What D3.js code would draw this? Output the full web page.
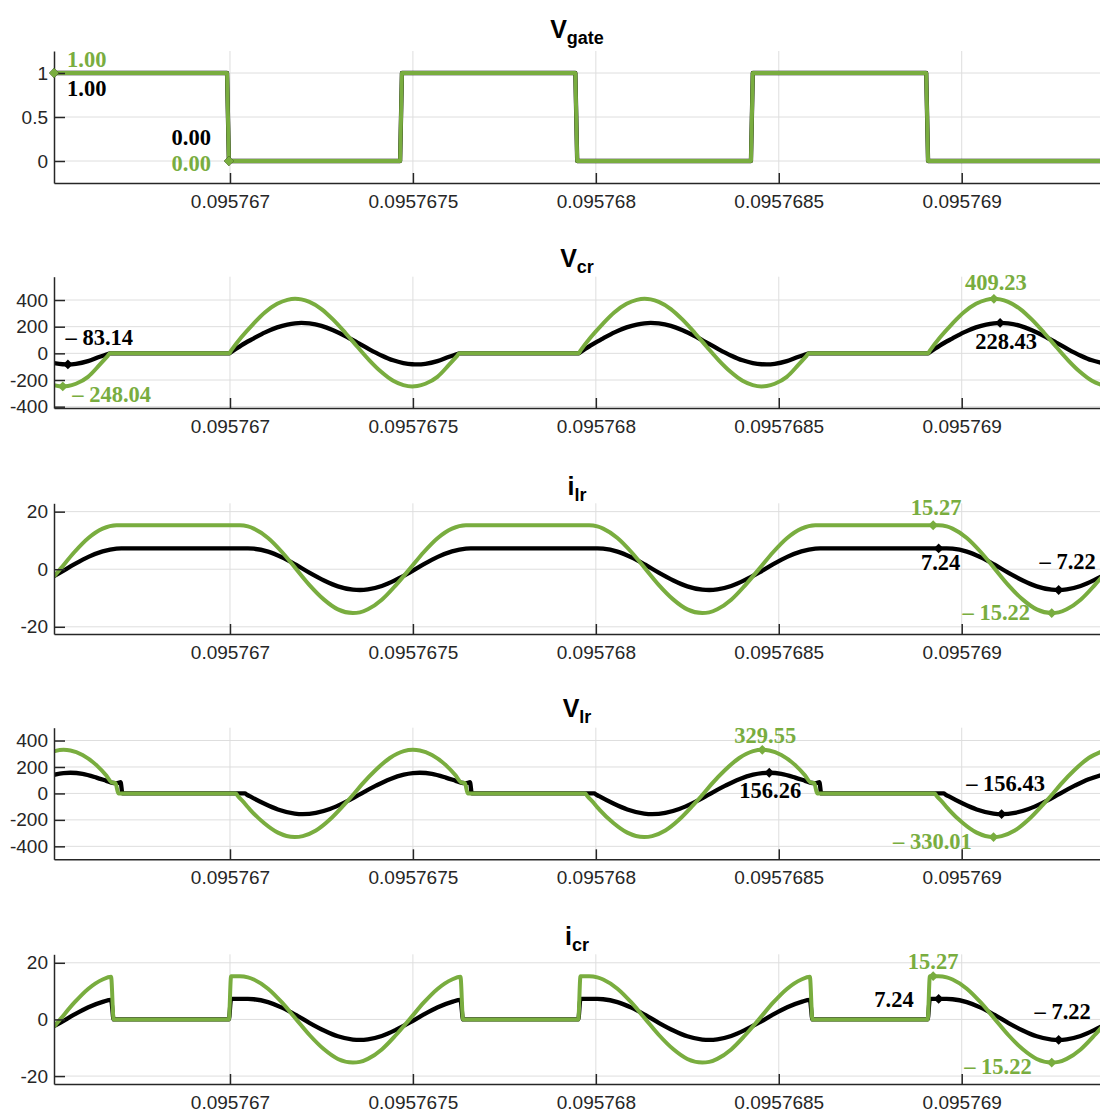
<!DOCTYPE html>
<html><head><meta charset="utf-8">
<script src="https://cdn.jsdelivr.net/npm/d3@7"></script>
<style>html,body{margin:0;padding:0;background:#fff}svg{display:block}</style>
</head><body>
<svg id="chart" width="1100" height="1115"></svg>
<script>
// ---------- time axis ----------
const T0 = 0.095767;                      // s ; data times below are ns offsets from T0
const xDomainNs = [-481, 2378];
const xTicks = [0.095767, 0.0957675, 0.095768, 0.0957685, 0.095769];
const xTickLabels = ["0.095767", "0.0957675", "0.095768", "0.0957685", "0.095769"];

// ---------- V_gate ----------
const gateT = [-481, -8, -3, 465, 470, 944, 949, 1424, 1429, 1903, 1908, 2378];
const gateGreen = [1, 1, 0, 0, 1, 1, 0, 0, 1, 1, 0, 0];
const gateBlack = [1, 1, 0, 0, 1, 1, 0, 0, 1, 1, 0, 0];
const gateYDomain = [-0.25, 1.25];
const gateYTicks = [0, 0.5, 1];
const gateYTickLabels = ["0", "0.5", "1"];
const gateTipT = [-481, -481, -3, -3];
const gateTipV = [1, 1, 0, 0];
const gateTipS = ["green", "black", "black", "green"];

// ---------- V_cr ----------
const vcrT = [-481, -457, -443, -421, -388, -356, -336, -328,
  -2, 3, 31, 64, 96, 129, 157, 178, 195, 217, 250, 282, 315, 348, 381, 414, 446, 474, 498, 512, 534, 567, 599, 619, 627,
  953, 958, 986, 1019, 1051, 1084, 1112, 1133, 1150, 1172, 1205, 1237, 1270, 1303, 1336, 1369, 1401, 1429, 1453, 1467, 1489, 1522, 1554, 1574, 1582,
  1908, 1913, 1941, 1974, 2006, 2039, 2067, 2088, 2105, 2127, 2160, 2192, 2225, 2258, 2291, 2324, 2356, 2384];
const vcrGreen = [-238.4, -248.04, -245.2, -228.2, -176.2, -85, -25, 0,
  0, 20, 120.1, 221.5, 308.0, 371.4, 401.4, 409.23, 404.8, 386.1, 332.2, 252.5, 154.8, 49.7, -52.3, -140.5, -206.3, -238.4, -248.04, -245.2, -228.2, -176.2, -85, -25, 0,
  0, 20, 120.1, 221.5, 308.0, 371.4, 401.4, 409.23, 404.8, 386.1, 332.2, 252.5, 154.8, 49.7, -52.3, -140.5, -206.3, -238.4, -248.04, -245.2, -228.2, -176.2, -85, -25, 0,
  0, 20, 120.1, 221.5, 308.0, 371.4, 401.4, 409.23, 404.8, 386.1, 332.2, 252.5, 154.8, 49.7, -52.3, -140.5, -206.3, -238.4];
const vcrBlack = [-72.7, -81.8, -83.14, -78.7, -58.6, -24.9, -7.5, 0,
  0, 8.5, 60.2, 110.8, 157.2, 194.7, 216.1, 225.6, 228.43, 224.7, 206.3, 173.6, 130.2, 80.6, 30.1, -15.7, -52.4, -72.7, -81.8, -83.14, -78.7, -58.6, -24.9, -7.5, 0,
  0, 8.5, 60.2, 110.8, 157.2, 194.7, 216.1, 225.6, 228.43, 224.7, 206.3, 173.6, 130.2, 80.6, 30.1, -15.7, -52.4, -72.7, -81.8, -83.14, -78.7, -58.6, -24.9, -7.5, 0,
  0, 8.5, 60.2, 110.8, 157.2, 194.7, 216.1, 225.6, 228.43, 224.7, 206.3, 173.6, 130.2, 80.6, 30.1, -15.7, -52.4, -72.7];
const vcrYDomain = [-410, 575];
const vcrYTicks = [-400, -200, 0, 200, 400];
const vcrYTickLabels = ["-400", "-200", "0", "200", "400"];
const vcrTipT = [-457, -443, 2088, 2105];
const vcrTipV = [-248.04, -83.14, 409.23, 228.43];
const vcrTipS = ["green", "black", "green", "black"];

// ---------- i_lr ----------
const ilrT = [-481, -463, -425, -387, -348, -310, -297,
  27, 49, 65, 104, 142, 180, 218, 257, 295, 336, 355, 377, 415, 453, 492, 530, 568, 607, 645, 658,
  982, 1004, 1020, 1059, 1097, 1135, 1173, 1212, 1250, 1291, 1310, 1332, 1370, 1408, 1447, 1485, 1523, 1562, 1600, 1613,
  1937, 1959, 1975, 2014, 2052, 2090, 2128, 2167, 2205, 2246, 2265, 2287, 2325, 2363, 2402];
const ilrGreen = [-2.55, 0.21, 5.99, 10.86, 14.11, 15.27, 15.27,
  15.27, 14.87, 14.11, 10.86, 5.99, 0.21, -5.59, -10.56, -13.95, -15.22, -14.99, -13.92, -10.59, -5.59, 0.21, 5.99, 10.86, 14.11, 15.27, 15.27,
  15.27, 14.87, 14.11, 10.86, 5.99, 0.21, -5.59, -10.56, -13.95, -15.22, -14.99, -13.92, -10.59, -5.59, 0.21, 5.99, 10.86, 14.11, 15.27, 15.27,
  15.27, 14.87, 14.11, 10.86, 5.99, 0.21, -5.59, -10.56, -13.95, -15.22, -14.99, -13.92, -10.59, -5.59, 0.21];
const ilrBlack = [-2.36, -1.08, 1.76, 4.29, 6.20, 7.17, 7.24,
  7.24, 7.24, 7.13, 6.11, 4.16, 1.57, -1.27, -3.90, -5.95, -7.11, -7.22, -7.02, -5.84, -3.72, -1.08, 1.76, 4.29, 6.20, 7.17, 7.24,
  7.24, 7.24, 7.13, 6.11, 4.16, 1.57, -1.27, -3.90, -5.95, -7.11, -7.22, -7.02, -5.84, -3.72, -1.08, 1.76, 4.29, 6.20, 7.17, 7.24,
  7.24, 7.24, 7.13, 6.11, 4.16, 1.57, -1.27, -3.90, -5.95, -7.11, -7.22, -7.02, -5.84, -3.72, -1.08];
const ilrYDomain = [-22.5, 22.9];
const ilrYTicks = [-20, 0, 20];
const ilrYTickLabels = ["-20", "0", "20"];
const ilrTipT = [1922, 1937, 2265, 2246];
const ilrTipV = [15.27, 7.24, -7.22, -15.22];
const ilrTipS = ["green", "black", "black", "green"];

// ---------- V_lr ----------
const vlrT = [-481, -455, -436, -403, -365, -338, -324, -313, -305, -299, -294,
  16, 21, 41, 46, 54, 93, 131, 177, 199, 235, 273, 311, 339, 360, 399, 437, 475, 500, 519, 552, 590, 617, 631, 642, 650, 656, 661,
  971, 976, 996, 1001, 1009, 1048, 1086, 1132, 1154, 1190, 1228, 1266, 1294, 1315, 1354, 1392, 1430, 1455, 1474, 1507, 1545, 1572, 1586, 1597, 1605, 1611, 1616,
  1926, 1931, 1951, 1956, 1964, 2003, 2041, 2087, 2109, 2145, 2183, 2221, 2249, 2270, 2309, 2347, 2385];
const vlrGreen = [318, 329.55, 324.9, 291.2, 214.1, 135, 85, 78, 0, 0, 0,
  0, -17.5, -78.1, -95.0, -119.9, -223.4, -296.5, -330.01, -322.8, -280.8, -197.8, -89.0, -2.6, 67.1, 179.5, 267.9, 319.7, 329.55, 324.9, 291.2, 214.1, 135, 85, 78, 0, 0, 0,
  0, -17.5, -78.1, -95.0, -119.9, -223.4, -296.5, -330.01, -322.8, -280.8, -197.8, -89.0, -2.6, 67.1, 179.5, 267.9, 319.7, 329.55, 324.9, 291.2, 214.1, 135, 85, 78, 0, 0, 0,
  0, -17.5, -78.1, -95.0, -119.9, -223.4, -296.5, -330.01, -322.8, -280.8, -197.8, -89.0, -2.6, 67.1, 179.5, 267.9, 319.7];
const vlrBlack = [141, 153.4, 156.26, 148.4, 119.9, 95, 82, 78, 80, 85, 0,
  0, 0, 0, -8.4, -21.0, -76.5, -121.3, -152.4, -156.43, -147.3, -117.8, -71.8, -32.1, 1.25, 58.8, 107.7, 141.9, 153.4, 156.26, 148.4, 119.9, 95, 82, 78, 80, 85, 0,
  0, 0, 0, -8.4, -21.0, -76.5, -121.3, -152.4, -156.43, -147.3, -117.8, -71.8, -32.1, 1.25, 58.8, 107.7, 141.9, 153.4, 156.26, 148.4, 119.9, 95, 82, 78, 80, 85, 0,
  0, 0, 0, -8.4, -21.0, -76.5, -121.3, -152.4, -156.43, -147.3, -117.8, -71.8, -32.1, 1.25, 58.8, 107.7, 141.9];
const vlrYDomain = [-498, 497];
const vlrYTicks = [-400, -200, 0, 200, 400];
const vlrYTickLabels = ["-400", "-200", "0", "200", "400"];
const vlrTipT = [1455, 1474, 2109, 2087];
const vlrTipV = [329.55, 156.26, -156.43, -330.01];
const vlrTipS = ["green", "black", "black", "green"];

// ---------- i_cr ----------
const icrT = [-481, -463, -425, -387, -348, -325, -318, -3, 3,
  27, 49, 65, 104, 142, 180, 218, 257, 295, 336, 355, 377, 415, 453, 492, 530, 568, 607, 630, 637, 952, 958,
  982, 1004, 1020, 1059, 1097, 1135, 1173, 1212, 1250, 1291, 1310, 1332, 1370, 1408, 1447, 1485, 1523, 1562, 1585, 1592, 1907, 1913,
  1937, 1959, 1975, 2014, 2052, 2090, 2128, 2167, 2205, 2246, 2265, 2287, 2325, 2363, 2402];
const icrGreen = [-2.55, 0.21, 5.99, 10.86, 14.11, 15.06, 0, 0, 15.27,
  15.27, 14.87, 14.11, 10.86, 5.99, 0.21, -5.59, -10.56, -13.95, -15.22, -14.99, -13.92, -10.59, -5.59, 0.21, 5.99, 10.86, 14.11, 15.06, 0, 0, 15.27,
  15.27, 14.87, 14.11, 10.86, 5.99, 0.21, -5.59, -10.56, -13.95, -15.22, -14.99, -13.92, -10.59, -5.59, 0.21, 5.99, 10.86, 14.11, 15.06, 0, 0, 15.27,
  15.27, 14.87, 14.11, 10.86, 5.99, 0.21, -5.59, -10.56, -13.95, -15.22, -14.99, -13.92, -10.59, -5.59, 0.21];
const icrBlack = [-2.36, -1.08, 1.76, 4.29, 6.20, 6.90, 0, 0, 7.24,
  7.24, 7.24, 7.13, 6.11, 4.16, 1.57, -1.27, -3.90, -5.95, -7.11, -7.22, -7.02, -5.84, -3.72, -1.08, 1.76, 4.29, 6.20, 6.90, 0, 0, 7.24,
  7.24, 7.24, 7.13, 6.11, 4.16, 1.57, -1.27, -3.90, -5.95, -7.11, -7.22, -7.02, -5.84, -3.72, -1.08, 1.76, 4.29, 6.20, 6.90, 0, 0, 7.24,
  7.24, 7.24, 7.13, 6.11, 4.16, 1.57, -1.27, -3.90, -5.95, -7.11, -7.22, -7.02, -5.84, -3.72, -1.08];
const icrYDomain = [-22.8, 23];
const icrYTicks = [-20, 0, 20];
const icrYTickLabels = ["-20", "0", "20"];
const icrTipT = [1922, 1937, 2265, 2246];
const icrTipV = [15.27, 7.24, -7.22, -15.22];
const icrTipS = ["green", "black", "black", "green"];

// ---------- styling / layout ----------
const GREEN = "#79ad3f", BLACK = "#000000", AXIS = "#262626", GRID = "#dedede";
const L = 54, R = 1100;
const SANS = "'Liberation Sans', Arial, Helvetica, sans-serif";
const SERIF = "'Liberation Serif', 'Times New Roman', serif";

const panels = [
  {title: "V", sub: "gate", titleY: 38, top: 51, bottom: 183, yDomain: gateYDomain, yTicks: gateYTicks, yLabels: gateYTickLabels,
   t: gateT, green: gateGreen, black: gateBlack, curve: d3.curveLinear, tipT: gateTipT, tipV: gateTipV, tipS: gateTipS,
   tipPos: [[13, -6.5, "start"], [13, 23, "start"], [-18, -16, "end"], [-18, 9.5, "end"]]},
  {title: "V", sub: "cr", titleY: 267, top: 276.7, bottom: 408, yDomain: vcrYDomain, yTicks: vcrYTicks, yLabels: vcrYTickLabels,
   t: vcrT, green: vcrGreen, black: vcrBlack, curve: d3.curveMonotoneX, tipT: vcrTipT, tipV: vcrTipV, tipS: vcrTipS,
   tipPos: [[9.5, 15.3, "start"], [-2.3, -19.4, "start"], [2, -8.7, "middle"], [6, 26, "middle"]]},
  {title: "i", sub: "lr", titleY: 495, top: 503.3, bottom: 634, yDomain: ilrYDomain, yTicks: ilrYTicks, yLabels: ilrYTickLabels,
   t: ilrT, green: ilrGreen, black: ilrBlack, curve: d3.curveMonotoneX, tipT: ilrTipT, tipV: ilrTipV, tipS: ilrTipS,
   tipPos: [[3, -10, "middle"], [2, 22, "middle"], [9, -21, "middle"], [-21.6, 7, "end"]]},
  {title: "V", sub: "lr", titleY: 717, top: 727.7, bottom: 859.3, yDomain: vlrYDomain, yTicks: vlrYTicks, yLabels: vlrYTickLabels,
   t: vlrT, green: vlrGreen, black: vlrBlack, curve: d3.curveMonotoneX, tipT: vlrTipT, tipV: vlrTipV, tipS: vlrTipS,
   tipPos: [[3, -6.5, "middle"], [1, 25.6, "middle"], [4, -23.4, "middle"], [-21.7, 12, "end"]]},
  {title: "i", sub: "cr", titleY: 945, top: 954.3, bottom: 1084, yDomain: icrYDomain, yTicks: icrYTicks, yLabels: icrYTickLabels,
   t: icrT, green: icrGreen, black: icrBlack, curve: d3.curveMonotoneX, tipT: icrTipT, tipV: icrTipV, tipS: icrTipS,
   tipPos: [[0, -7, "middle"], [-25, 8.4, "end"], [4, -20.5, "middle"], [-20, 11, "end"]]}
];

const svg = d3.select("#chart");
svg.append("rect").attr("width", 1100).attr("height", 1115).attr("fill", "#fff");

const toSec = ns => T0 + ns * 1e-9;
const x = d3.scaleLinear().domain([toSec(xDomainNs[0]), toSec(xDomainNs[1])]).range([L, R]);
const fmtTip = v => v < 0 ? "\u2013 " + Math.abs(v).toFixed(2) : v.toFixed(2);
const diamond = d3.symbol().type(d3.symbolSquare).size(48);

panels.forEach((p, i) => {
  const y = d3.scaleLinear().domain(p.yDomain).range([p.bottom, p.top]);
  const g = svg.append("g");

  // grid
  g.append("g").selectAll("line").data(p.yTicks).join("line")
    .attr("x1", L).attr("x2", R).attr("y1", d => y(d)).attr("y2", d => y(d))
    .attr("stroke", GRID).attr("stroke-width", 1);
  g.append("g").selectAll("line").data(xTicks).join("line")
    .attr("x1", d => x(d)).attr("x2", d => x(d)).attr("y1", p.top).attr("y2", p.bottom)
    .attr("stroke", GRID).attr("stroke-width", 1);

  // title
  const tt = svg.append("text").attr("x", (L + R) / 2).attr("y", p.titleY)
    .attr("text-anchor", "middle").attr("font-family", SANS).attr("font-weight", "bold").attr("fill", "#000");
  tt.append("tspan").attr("font-size", 25).text(p.title);
  tt.append("tspan").attr("font-size", 18).attr("dy", 6).text(p.sub);

  // lines
  const clipId = "clip" + i;
  svg.append("clipPath").attr("id", clipId).append("rect")
    .attr("x", L).attr("y", p.top - 40).attr("width", R - L).attr("height", p.bottom - p.top + 80);
  const line = d3.line().x(d => x(toSec(d[0]))).y(d => y(d[1])).curve(p.curve);
  const ptsB = p.t.map((t, j) => [t, p.black[j]]);
  const ptsG = p.t.map((t, j) => [t, p.green[j]]);
  const lg = g.append("g").attr("clip-path", `url(#${clipId})`);
  lg.append("path").attr("d", line(ptsB)).attr("fill", "none").attr("stroke", BLACK)
    .attr("stroke-width", 4.3).attr("stroke-linejoin", "round");
  lg.append("path").attr("d", line(ptsG)).attr("fill", "none").attr("stroke", GREEN)
    .attr("stroke-width", 4.0).attr("stroke-linejoin", "round");

  // axes
  const ya = d3.axisLeft(y).tickValues(p.yTicks).tickFormat((d, j) => p.yLabels[j])
    .tickSizeInner(-11).tickSizeOuter(0).tickPadding(6);
  const yg = g.append("g").attr("transform", `translate(${L},0)`).call(ya);
  const xa = d3.axisBottom(x).tickValues(xTicks).tickFormat((d, j) => xTickLabels[j])
    .tickSizeInner(-10).tickSizeOuter(0).tickPadding(11.5);
  const xg = g.append("g").attr("transform", `translate(0,${p.bottom})`).call(xa);
  [yg, xg].forEach(a => {
    a.attr("color", AXIS).attr("font-family", SANS).attr("font-size", 19);
    a.selectAll("path,line").attr("stroke-width", 1.5);
    a.selectAll("text").attr("fill", AXIS);
  });

  // data tips (black first, green on top)
  const order = p.tipS.map((s, j) => j).sort((a, b) => (p.tipS[a] === "green") - (p.tipS[b] === "green"));
  order.forEach(j => {
    const px = x(toSec(p.tipT[j])), py = y(p.tipV[j]);
    g.append("path").attr("d", diamond()).attr("transform", `translate(${px},${py}) rotate(45)`)
      .attr("fill", p.tipS[j] === "green" ? GREEN : BLACK);
  });
  order.forEach(j => {
    const px = x(toSec(p.tipT[j])), py = y(p.tipV[j]);
    const pos = p.tipPos[j];
    g.append("text").attr("x", px + pos[0]).attr("y", py + pos[1]).attr("text-anchor", pos[2])
      .attr("font-family", SERIF).attr("font-weight", "bold").attr("font-size", 22.5)
      .attr("fill", p.tipS[j] === "green" ? GREEN : BLACK).text(fmtTip(p.tipV[j]));
  });
});
</script>
</body></html>
